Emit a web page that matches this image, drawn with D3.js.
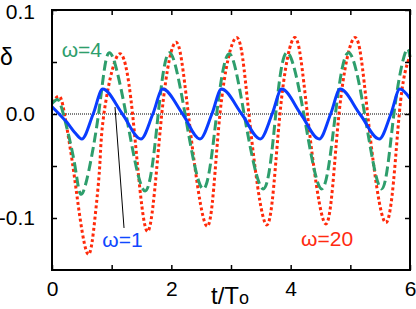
<!DOCTYPE html>
<html>
<head>
<meta charset="utf-8">
<script src="https://cdn.jsdelivr.net/npm/d3@7"></script>
<style>
html,body{margin:0;padding:0;background:#fff;}
svg{display:block;font-family:"Liberation Sans",Arial,sans-serif;}
</style>
</head>
<body>
<svg id="chart" width="416" height="309"></svg>
<script>
// ---- data ----
const blueT = [0, 0.12, 0.25, 0.385, 0.50, 0.69, 0.85, 1.18, 1.49, 1.69, 1.855, 2.19, 2.48, 2.68, 2.84, 3.18, 3.49, 3.69, 3.85, 4.17, 4.48, 4.67, 4.83, 5.16, 5.485, 5.68, 5.83, 6.0];
const blueV = [0.007, 0, -0.008, -0.018, -0.024, 0, 0.024, 0, -0.024, 0, 0.024, 0, -0.024, 0, 0.024, 0, -0.024, 0, 0.024, 0, -0.024, 0, 0.024, 0, -0.024, 0, 0.024, 0.015];

const greenT = [0, 0.09, 0.19, 0.385, 0.525, 0.78, 0.96, 1.24, 1.56, 1.78, 1.97, 2.23, 2.535, 2.76, 2.97, 3.22, 3.54, 3.75, 3.94, 4.22, 4.52, 4.75, 4.97, 5.24, 5.525, 5.73, 5.92, 6.0];
const greenV = [0.010, 0.014, 0, -0.05, -0.0745, 0, 0.059, 0, -0.074, 0, 0.059, 0, -0.072, 0, 0.058, 0, -0.072, 0, 0.059, 0, -0.072, 0, 0.059, 0, -0.072, 0, 0.059, 0.055];

const redT = [0, 0.12, 0.21, 0.35, 0.47, 0.61, 0.72, 0.80, 0.87, 1.11, 1.35, 1.60, 1.84, 2.08, 2.285, 2.60, 2.815, 3.095, 3.30, 3.60, 3.82, 4.07, 4.28, 4.59, 4.81, 5.08, 5.29, 5.60, 5.82, 6.0];
const redV = [0.011, 0.017, 0, -0.05, -0.10, -0.135, -0.10, -0.05, 0, 0.057, 0, -0.113, 0, 0.069, 0, -0.108, 0, 0.0735, 0, -0.1067, 0, 0.0735, 0, -0.1057, 0, 0.0735, 0, -0.1044, 0, 0.056];

const xTicks = [0, 1, 2, 3, 4, 5, 6];
const xTickLabels = ["0", "", "2", "", "4", "", "6"];
const yTicks = [0.1, 0.05, 0, -0.05, -0.1];
const yTickLabels = ["0.1", "", "0.0", "", "-0.1"];

const labels = [
  {text: "\u03c9=4", t: 0.5, v: 0.055, color: "#2e9e6c"},
  {text: "\u03c9=1", t: 1.18, v: -0.128, color: "#1048ff"},
  {text: "\u03c9=20", t: 4.61, v: -0.127, color: "#ff2a10"}
];
const leaderT = [1.056, 1.207];
const leaderV = [0.0067, -0.1096];

// ---- drawing ----
const svg = d3.select("#chart");
const x = d3.scaleLinear().domain([0, 6]).range([52, 410]);
const y = d3.scaleLinear().domain([-0.15, 0.1]).range([270, 10]);

// zero line
svg.append("line")
  .attr("x1", x(0)).attr("x2", x(6)).attr("y1", y(0)).attr("y2", y(0))
  .attr("stroke", "#000").attr("stroke-width", 1).attr("stroke-dasharray", "1,1");

const line = d3.line().x(d => x(d[0])).y(d => y(d[1])).curve(d3.curveNatural);
const lineM = d3.line().x(d => x(d[0])).y(d => y(d[1])).curve(d3.curveMonotoneX);
const zip = (a, b) => a.map((t, i) => [t, b[i]]);

svg.append("path").datum(zip(redT, redV)).attr("d", line)
  .attr("fill", "none").attr("stroke", "#ff2a0a").attr("stroke-width", 3)
  .attr("stroke-dasharray", "3,2.6");
svg.append("path").datum(zip(greenT, greenV)).attr("d", line)
  .attr("fill", "none").attr("stroke", "#2e9e6c").attr("stroke-width", 3)
  .attr("stroke-dasharray", "10,4.5");
svg.append("path").datum(zip(blueT, blueV)).attr("d", lineM)
  .attr("fill", "none").attr("stroke", "#0a3cff").attr("stroke-width", 3);

// leader line
svg.append("line")
  .attr("x1", x(leaderT[0])).attr("y1", y(leaderV[0]))
  .attr("x2", x(leaderT[1])).attr("y2", y(leaderV[1]))
  .attr("stroke", "#000").attr("stroke-width", 1);

// frame
svg.append("rect")
  .attr("x", x(0)).attr("y", y(0.1)).attr("width", x(6) - x(0)).attr("height", y(-0.15) - y(0.1))
  .attr("fill", "none").attr("stroke", "#000").attr("stroke-width", 2);

// axes with inward ticks
const axB = d3.axisBottom(x).tickValues(xTicks).tickSizeInner(-5).tickSizeOuter(0)
  .tickFormat((d, i) => xTickLabels[i]).tickPadding(11);
const gB = svg.append("g").attr("transform", `translate(0,${y(-0.15)})`).call(axB);
const axT = d3.axisTop(x).tickValues(xTicks).tickSizeInner(-5).tickSizeOuter(0).tickFormat("");
const gT = svg.append("g").attr("transform", `translate(0,${y(0.1)})`).call(axT);
const axL = d3.axisLeft(y).tickValues(yTicks).tickSizeInner(-5).tickSizeOuter(0)
  .tickFormat((d, i) => yTickLabels[i]).tickPadding(17);
const gL = svg.append("g").attr("transform", `translate(${x(0)},0)`).call(axL);
const axR = d3.axisRight(y).tickValues(yTicks).tickSizeInner(-5).tickSizeOuter(0).tickFormat("");
const gR = svg.append("g").attr("transform", `translate(${x(6)},0)`).call(axR);
[gB, gT, gL, gR].forEach(g => {
  g.select(".domain").remove();
  g.selectAll(".tick line").attr("stroke", "#000").attr("stroke-width", 1.5);
  g.selectAll("text").attr("font-size", 21).attr("fill", "#000")
    .attr("font-family", "Liberation Sans, Arial, sans-serif");
});
gB.selectAll("text").attr("dy", "0.71em");
// keep the top label fully inside the picture
gL.selectAll(".tick").filter(d => d === 0.1).select("text").attr("dy", "0.42em");

// axis titles
svg.append("text").attr("x", 0).attr("y", 65).attr("font-size", 23).attr("fill", "#000").text("\u03b4");
const xt = svg.append("text").attr("x", 230).attr("y", 304).attr("text-anchor", "middle")
  .attr("font-size", 24).attr("fill", "#000");
xt.append("tspan").text("t/T");
xt.append("tspan").attr("font-size", 18).text("o");

// series labels
svg.selectAll("text.lab").data(labels).enter().append("text").attr("class", "lab")
  .attr("x", d => x(d.t)).attr("y", d => y(d.v)).attr("text-anchor", "middle")
  .attr("font-size", 21).attr("fill", d => d.color).text(d => d.text);
</script>
</body>
</html>
